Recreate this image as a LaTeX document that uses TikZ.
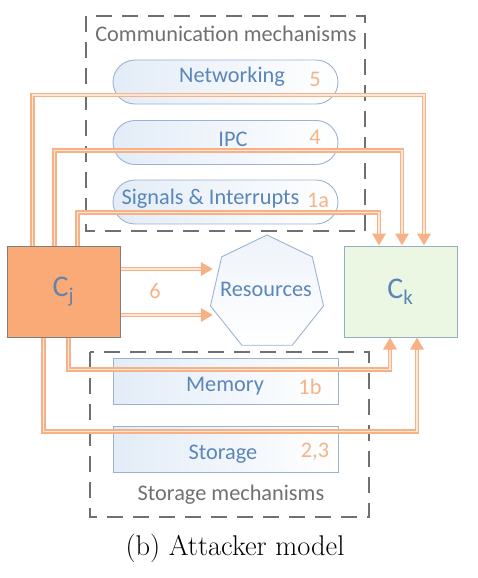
\documentclass[tikz,border=0pt]{standalone}
\usepackage{fontspec}
\setsansfont{Carlito}
\usetikzlibrary{arrows.meta,shapes.geometric,calc}
\definecolor{orA}{HTML}{F6B286}
\definecolor{orB}{HTML}{FDE6D6}
\definecolor{orN}{HTML}{F4B489}
\definecolor{bluT}{HTML}{5A86BA}
\definecolor{bluE}{HTML}{9CB3D0}
\definecolor{bluF}{HTML}{E3ECF7}
\definecolor{grayD}{HTML}{707070}
\definecolor{cjF}{HTML}{F9AA76}
\definecolor{ckF}{HTML}{EBF7E2}
\definecolor{ckE}{HTML}{95AEBF}
\begin{document}
\begin{tikzpicture}[x=1pt,y=-1pt,
  lbl/.style={font=\sffamily\fontsize{22.3}{26}\selectfont, inner sep=0pt},
  pill/.style={draw=bluE, line width=0.9pt, rounded corners=22pt, left color=bluF, right color=white, minimum width=225pt, minimum height=44pt, inner sep=0pt},
  memrect/.style={draw=bluE, line width=0.9pt, left color=bluF, right color=white, minimum width=225pt, minimum height=46pt, inner sep=0pt},
  grp/.style={draw=grayD, line width=2.3pt, dash pattern=on 16pt off 10pt},
  num/.style={lbl, text=orN},
  conn/.style={draw=orA, line width=4.6pt, -{Triangle[length=12pt,width=13pt]},
     postaction={draw=orB, line width=1.8pt, -, shorten >=12pt}},
  comp/.style={line width=1pt, minimum width=113pt, minimum height=91pt, inner sep=0pt, font=\sffamily\fontsize{30}{34}\selectfont}]
\useasboundingbox (0,0) rectangle (477,578);
% group boxes
\draw[grp] (86,16) rectangle (365,231);
\node[lbl, text=grayD] (commlbl) at (226,34) {Communication mechanisms};
\draw[grp] (90,352) rectangle (369,517);
\node[lbl, text=grayD] (storlbl) at (231,495) {Storage mechanisms};
% pills
\node[pill] (net) at (225.5,82) {};
\node[lbl, text=bluT] (netT) at (232,77) {Networking};
\node[num] (netN) at (315,79) {5};
\node[pill] (ipc) at (225.5,142.5) {};
\node[lbl, text=bluT] (ipcT) at (233,139) {IPC};
\node[num] (ipcN) at (315,137) {4};
\node[pill] (sig) at (225.5,202) {};
\node[lbl, text=bluT] (sigT) at (210.5,199) {Signals \& Interrupts};
\node[num] (sigN) at (318,200) {1a};
% storage rects
\node[memrect] (mem) at (225.5,381) {};
\node[lbl, text=bluT] (memT) at (225,386) {Memory};
\node[num] (memN) at (310,387) {1b};
\node[memrect] (sto) at (225.5,449) {};
\node[lbl, text=bluT] (stoT) at (223,454) {Storage};
\node[num] (stoN) at (315,452) {2,3};
% components
\node[comp, draw=grayD!90, fill=cjF, text=bluT!70!gray] (Cj) at (63.5,291.5) {C\textsubscript{j}};
\node[comp, draw=ckE, fill=ckF, text=bluT] (Ck) at (400.5,291.5) {C\textsubscript{k}};
% resources
\node[draw=bluE, line width=0.9pt, regular polygon, regular polygon sides=7, minimum size=116pt, inner sep=0pt, top color=bluF!60, bottom color=white] (res) at (267,293) {};
\node[lbl, text=bluT] (resT) at (266,289) {Resources};
% 6
\draw[conn] ([yshift=-23.5pt]Cj.east) -- ([yshift=-23.5pt]Cj.east -| res.west);
\draw[conn] ([yshift=22.5pt]Cj.east) -- ([yshift=22.5pt]Cj.east -| res.west);
\node[num] (sixN) at (155,291) {6};
% upper connectors
\draw[conn] ([xshift=26pt]Cj.north west) |- (95,95) -| ([xshift=23.5pt]Ck.north);
\draw[conn] ([xshift=48pt]Cj.north west) -- ++(0,-95) -| ([xshift=1.5pt]Ck.north);
\draw[conn] ([xshift=71pt]Cj.north west) -- ++(0,-33) -| ([xshift=-21.5pt]Ck.north);
% lower connectors
\draw[conn] ([xshift=62pt]Cj.south west) -- ++(0,32) -| ([xshift=-10.5pt]Ck.south);
\draw[conn] ([xshift=37pt]Cj.south west) -- ++(0,94) -| ([xshift=16.5pt]Ck.south);
% caption
\node[font=\fontsize{28.5}{32}\selectfont] (cap) at (235,548) {(b) Attacker model};
\end{tikzpicture}
\end{document}
